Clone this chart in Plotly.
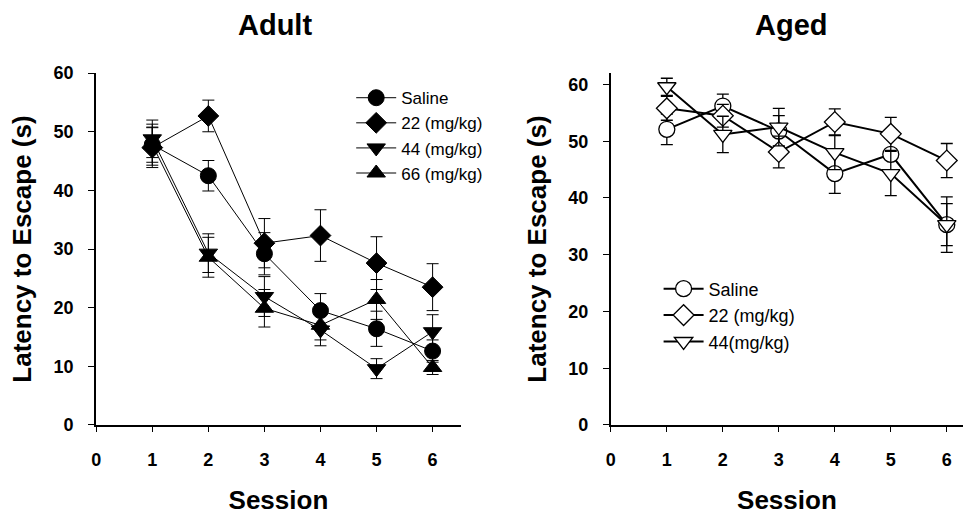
import plotly.graph_objects as go

# Session numbers shared by both panels
sessions = [1, 2, 3, 4, 5, 6]

# Adult rats: mean latency (s) and SEM
adult_saline = [47.8, 42.5, 29.2, 19.5, 16.4, 12.6]
adult_saline_err = [3.0, 2.6, 3.6, 2.9, 3.0, 1.9]
adult_22 = [47.3, 52.7, 31.0, 32.3, 27.6, 23.5]
adult_22_err = [3.4, 2.7, 4.2, 4.4, 4.5, 4.0]
adult_44 = [48.8, 29.3, 21.9, 16.2, 9.6, 15.9]
adult_44_err = [3.2, 3.3, 3.4, 2.7, 1.7, 2.9]
adult_66 = [47.8, 28.6, 19.9, 17.0, 21.4, 9.8]
adult_66_err = [3.5, 3.4, 3.2, 2.5, 3.4, 1.2]

# Aged rats: mean latency (s) and SEM
aged_saline = [52.1, 56.2, 51.8, 44.3, 47.7, 35.3]
aged_saline_err = [2.7, 2.1, 2.7, 3.5, 0.8, 3.7]
aged_22 = [55.8, 54.5, 48.1, 53.4, 51.3, 46.6]
aged_22_err = [2.1, 2.0, 2.8, 2.3, 2.9, 3.0]
aged_44 = [59.6, 51.2, 52.5, 48.0, 44.3, 35.3]
aged_44_err = [1.5, 3.2, 3.3, 3.0, 3.9, 4.9]

FONT = "Liberation Sans, Arial, Helvetica, sans-serif"
W, H = 964, 515

fig = go.Figure()


def add_series(y, err, name, symbol, filled, panel):
    left = panel == 1
    fig.add_trace(go.Scatter(
        x=sessions, y=y, name=name, mode="lines+markers",
        xaxis="x" if left else "x2", yaxis="y" if left else "y2",
        legend="legend" if left else "legend2",
        line=dict(color="black", width=1 if left else 2),
        marker=dict(symbol=symbol, size=16,
                    color="black" if filled else "white",
                    line=dict(color="black", width=1 if filled else 1.3)),
        error_y=dict(type="data", array=err, visible=True, color="black",
                     thickness=1 if left else 1.3, width=6),
        cliponaxis=False,
    ))


add_series(adult_saline, adult_saline_err, "Saline", "circle", True, 1)
add_series(adult_22, adult_22_err, "22 (mg/kg)", "diamond", True, 1)
add_series(adult_44, adult_44_err, "44 (mg/kg)", "triangle-down", True, 1)
add_series(adult_66, adult_66_err, "66 (mg/kg)", "triangle-up", True, 1)

add_series(aged_saline, aged_saline_err, "Saline", "circle", False, 2)
add_series(aged_22, aged_22_err, "22 (mg/kg)", "diamond", False, 2)
add_series(aged_44, aged_44_err, "44(mg/kg)", "triangle-down", False, 2)

tickfont = dict(family=FONT, size=18, color="black", weight="bold")
titlefont = dict(family=FONT, size=26, color="black", weight="bold")

xcommon = dict(
    tickmode="array", tickvals=[0, 1, 2, 3, 4, 5, 6],
    showline=True, linecolor="black", linewidth=1.5,
    ticks="outside", ticklen=5, tickwidth=1.2, tickcolor="black",
    ticklabelstandoff=13,
    showgrid=False, zeroline=False, tickfont=tickfont,
    title=dict(text="Session", font=titlefont, standoff=22),
)
ycommon = dict(
    tickmode="array", tickvals=[0, 10, 20, 30, 40, 50, 60],
    showline=True, linecolor="black", linewidth=2,
    ticks="outside", ticklen=6, tickwidth=1.2, tickcolor="black",
    ticklabelstandoff=11,
    showgrid=False, zeroline=False, tickfont=tickfont,
    title=dict(text="Latency to Escape (s)", font=titlefont, standoff=14),
)

ydom = [(H - 431.7) / H, (H - 65.7) / H]

fig.update_layout(
    width=W, height=H,
    margin=dict(l=0, r=0, t=0, b=0),
    paper_bgcolor="white", plot_bgcolor="white",
    font=dict(family=FONT, color="black"),
    xaxis=dict(xcommon, domain=[91.7 / W, 458 / W], range=[0, 6.5],
               anchor="y"),
    yaxis=dict(ycommon, domain=ydom, range=[0, 60], anchor="x"),
    xaxis2=dict(xcommon, domain=[609 / W, 963 / W], range=[0, 6.29],
                anchor="y2"),
    yaxis2=dict(ycommon, domain=ydom, range=[0, 62], anchor="x2"),
    legend=dict(x=348 / W, y=1 - 73 / H, xanchor="left", yanchor="top",
                font=dict(family=FONT, size=17, color="black"),
                bgcolor="rgba(0,0,0,0)", tracegroupgap=0, itemwidth=40),
    legend2=dict(x=657 / W, y=1 - 271 / H, xanchor="left", yanchor="top",
                 font=dict(family=FONT, size=18, color="black"),
                 bgcolor="rgba(0,0,0,0)", tracegroupgap=0, itemwidth=40),
    annotations=[
        dict(text="Adult", x=271.5 / W, y=1 - 16 / H, xref="paper",
             yref="paper", showarrow=False, xanchor="center",
             yanchor="middle",
             font=dict(family=FONT, size=29, color="black", weight="bold")),
        dict(text="Aged", x=791 / W, y=1 - 16 / H, xref="paper",
             yref="paper", showarrow=False, xanchor="center",
             yanchor="middle",
             font=dict(family=FONT, size=29, color="black", weight="bold")),
    ],
)

fig.write_html("out.html")
